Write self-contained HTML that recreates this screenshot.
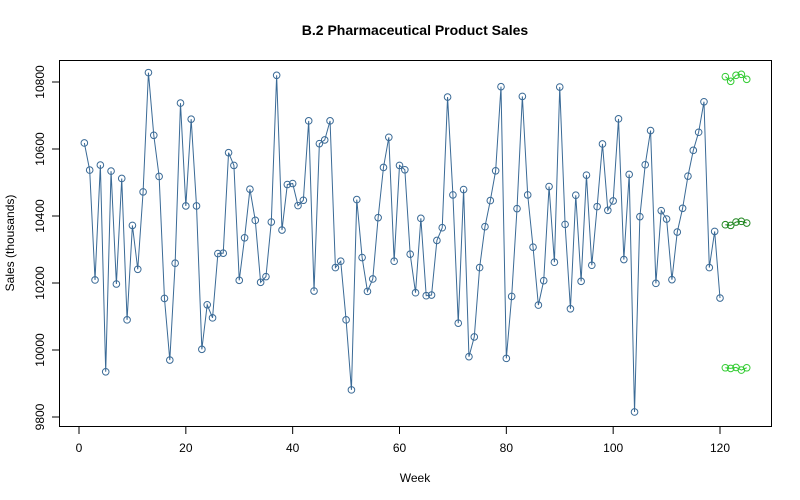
<!DOCTYPE html>
<html><head><meta charset="utf-8"><style>
body{margin:0;background:#fff;}
svg{display:block;font-family:"Liberation Sans",sans-serif;}
</style></head><body>
<svg id="c" width="800" height="500">
<text x="415" y="35" text-anchor="middle" font-size="14" font-weight="bold">B.2  Pharmaceutical Product Sales</text>
<rect x="59.5" y="60.5" width="712" height="366" fill="none" stroke="#000"/>
<text x="415" y="482" text-anchor="middle" font-size="12">Week</text>
<text transform="translate(14,243) rotate(-90)" text-anchor="middle" font-size="12">Sales (thousands)</text>
<g id="g"></g>
</svg>
<script>
const sales=[10618,10537,10209,10552,9935,10534,10197,10512,10090,10372,10241,10472,10828,10641,10518,10154,9970,10259,10737,10430,10689,10430,10002,10135,10096,10288,10289,10589,10551,10208,10335,10480,10387,10202,10219,10382,10820,10358,10494,10497,10431,10447,10684,10176,10616,10627,10684,10246,10265,10090,9881,10449,10276,10175,10212,10395,10545,10635,10265,10551,10538,10286,10171,10393,10162,10164,10327,10365,10755,10463,10080,10479,9980,10039,10246,10368,10446,10535,10786,9975,10160,10422,10757,10463,10307,10134,10207,10488,10262,10785,10375,10123,10462,10205,10522,10253,10428,10615,10417,10445,10690,10270,10524,9815,10398,10553,10655,10199,10416,10391,10210,10352,10423,10519,10596,10650,10741,10246,10354,10155];
const fcMean=[10374,10372,10382,10384,10379];
const fcUpper=[10816,10802,10820,10823,10808];
const fcLower=[9947,9945,9948,9940,9947];
const xTicks=[0,20,40,60,80,100,120];
const yTicks=[9800,10000,10200,10400,10600,10800];

const X=w=>79+(w-0)*(720-79)/120;
const Y=v=>417-(v-9800)*(417-82)/1000;
const NS="http://www.w3.org/2000/svg";
const g=document.getElementById('g');
function mk(t,a){const e=document.createElementNS(NS,t);for(const k in a)e.setAttribute(k,a[k]);g.appendChild(e);return e;}
xTicks.forEach(t=>{
  const l=mk('line',{x1:X(t),x2:X(t),y1:427,y2:434,stroke:'#000'});
  
  
  const tx=mk('text',{x:X(t),y:452,'text-anchor':'middle','font-size':12});tx.textContent=t;
  
  
});
yTicks.forEach(t=>{
  const l=mk('line',{x1:52,x2:59,y1:Y(t),y2:Y(t),stroke:'#000'});
  
  
  const tx=mk('text',{transform:`translate(44,${Y(t)}) rotate(-90)`,'text-anchor':'middle','font-size':12});tx.textContent=t;
  
  
});
const pl=mk('polyline',{points:sales.map((v,i)=>X(i+1)+','+Y(v)).join(' '),fill:'none',stroke:'#3a6a96','stroke-width':1});


sales.forEach((v,i)=>{
  const c=mk('circle',{cx:X(i+1),cy:Y(v),r:3.3,fill:'none',stroke:'#3a6a96','stroke-width':1});
  
  
});
function series(arr,col,name){
  arr.forEach((v,i)=>{
    const c=mk('circle',{cx:X(121+i),cy:Y(v),r:3.3,fill:'none',stroke:col,'stroke-width':1});
    
    
  });
  const p=mk('polyline',{points:arr.map((v,i)=>X(121+i)+','+Y(v)).join(' '),fill:'none',stroke:col,'stroke-width':1});
  
  
}
series(fcUpper,'#33cc33','forecast-upper');
series(fcMean,'#228822','forecast-mean');
series(fcLower,'#33cc33','forecast-lower');
</script>
</body></html>
